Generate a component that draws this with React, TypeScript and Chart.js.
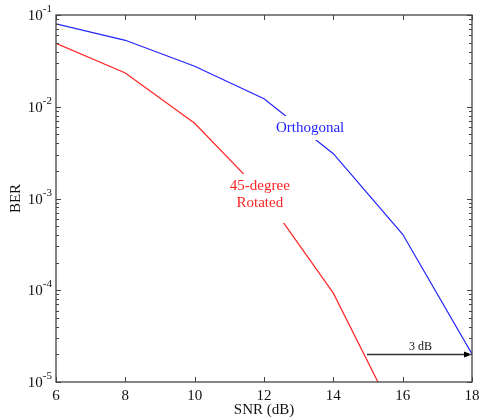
import React, { useEffect, useRef } from "react";
import { Chart, registerables } from "chart.js";

Chart.register(...registerables);

const snr = [6, 8, 10, 12, 14, 16, 18];
const orthogonalBER = [0.08, 0.053, 0.0276, 0.01225, 0.00308, 4.07e-4, 2.02e-5];
const rotatedSNR = [6, 8, 10, 12, 14, 16];
const rotatedBER = [0.049, 0.0233, 0.0066, 1.09e-3, 9.3e-5, 2.9e-6];
const xTicks = [6, 8, 10, 12, 14, 16, 18];
const yDecades = [-5, -4, -3, -2, -1];
const xTitle = "SNR (dB)";
const yTitle = "BER";
const orthLabel = { text: ["Orthogonal"], x: 13.33, y: 5.35e-3 };
const rotLabel = { text: ["45-degree", "Rotated"], x: 11.88, y: 1.24e-3 };
const arrow = { from: 14.97, to: 18, y: 2e-5, text: "3 dB" };

const BLUE = "rgb(35,35,255)";
const RED = "rgb(255,35,35)";
const FONT = '"Liberation Serif", "Times New Roman", serif';

const axesPlugin = {
  id: "customAxes",
  afterDatasetsDraw(chart: any) {
    const ctx = chart.ctx as CanvasRenderingContext2D;
    const { left, right, top, bottom } = chart.chartArea;
    const xs = chart.scales.x;
    const ys = chart.scales.y;
    ctx.save();

    // label boxes + labels (y = baseline of first line)
    const drawLabel = (lab: any, color: string, padX: number, padTop: number, padBottom: number) => {
      ctx.font = `15px ${FONT}`;
      const cx = xs.getPixelForValue(lab.x);
      const by = ys.getPixelForValue(lab.y);
      const lh = 17.3;
      const n = lab.text.length;
      let w = 0;
      lab.text.forEach((t: string) => (w = Math.max(w, ctx.measureText(t).width)));
      const y0 = by - padTop;
      const y1 = by + (n - 1) * lh + padBottom;
      ctx.fillStyle = "#fff";
      ctx.fillRect(cx - w / 2 - padX, y0, w + 2 * padX, y1 - y0);
      ctx.fillStyle = color;
      ctx.textAlign = "center";
      ctx.textBaseline = "alphabetic";
      lab.text.forEach((t: string, i: number) => {
        ctx.fillText(t, cx, by + i * lh);
      });
    };
    drawLabel(orthLabel, BLUE, 3, 15.7, 8.3);
    drawLabel(rotLabel, RED, 3, 16, 15.7);

    // arrow annotation
    const ax0 = xs.getPixelForValue(arrow.from);
    const ax1 = xs.getPixelForValue(arrow.to);
    const ay = Math.round(ys.getPixelForValue(arrow.y)) + 0.5;
    ctx.strokeStyle = "#333";
    ctx.lineWidth = 1.3;
    ctx.beginPath();
    ctx.moveTo(ax0, ay);
    ctx.lineTo(ax1 - 6, ay);
    ctx.stroke();
    ctx.fillStyle = "#000";
    ctx.beginPath();
    ctx.moveTo(ax1, ay);
    ctx.lineTo(ax1 - 8, ay - 3);
    ctx.lineTo(ax1 - 8, ay + 3);
    ctx.closePath();
    ctx.fill();
    ctx.font = `12px ${FONT}`;
    ctx.fillStyle = "#111";
    ctx.textAlign = "center";
    ctx.textBaseline = "alphabetic";
    ctx.fillText(arrow.text, (ax0 + ax1) / 2 + 1, ay - 5);

    // frame
    ctx.strokeStyle = "#444";
    ctx.lineWidth = 1.3;
    ctx.strokeRect(left, top, right - left, bottom - top);

    // x ticks
    ctx.lineWidth = 1;
    ctx.beginPath();
    xTicks.forEach((v) => {
      const px = Math.round(xs.getPixelForValue(v)) + 0.5;
      ctx.moveTo(px, bottom);
      ctx.lineTo(px, bottom - 5);
      ctx.moveTo(px, top);
      ctx.lineTo(px, top + 5);
    });
    // y ticks
    yDecades.forEach((d, i) => {
      const major = Math.pow(10, d);
      const py = Math.round(ys.getPixelForValue(major)) + 0.5;
      ctx.moveTo(left, py);
      ctx.lineTo(left + 5, py);
      ctx.moveTo(right, py);
      ctx.lineTo(right - 5, py);
      if (i < yDecades.length - 1) {
        for (let m = 2; m <= 9; m++) {
          const pm = Math.round(ys.getPixelForValue(m * major)) + 0.5;
          ctx.moveTo(left, pm);
          ctx.lineTo(left + 3, pm);
          ctx.moveTo(right, pm);
          ctx.lineTo(right - 3, pm);
        }
      }
    });
    ctx.stroke();

    // x tick labels
    ctx.fillStyle = "#111";
    ctx.font = `15px ${FONT}`;
    ctx.textAlign = "center";
    ctx.textBaseline = "alphabetic";
    xTicks.forEach((v) => {
      ctx.fillText(String(v), xs.getPixelForValue(v), bottom + 18);
    });
    // y tick labels
    yDecades.forEach((d) => {
      const py = ys.getPixelForValue(Math.pow(10, d));
      const sup = String(d);
      ctx.font = `11px ${FONT}`;
      const sw = ctx.measureText(sup).width;
      const supX = left - 4 - sw;
      ctx.textAlign = "left";
      ctx.fillText(sup, supX, py - 3);
      ctx.font = `15px ${FONT}`;
      ctx.textAlign = "right";
      ctx.fillText("10", supX, py + 5);
    });
    // axis titles
    ctx.font = `15px ${FONT}`;
    ctx.textAlign = "center";
    ctx.fillText(xTitle, (left + right) / 2, bottom + 32);
    ctx.save();
    ctx.translate(20, (top + bottom) / 2);
    ctx.rotate(-Math.PI / 2);
    ctx.fillText(yTitle, 0, 0);
    ctx.restore();

    ctx.restore();
  },
};

export default function App() {
  const ref = useRef<HTMLCanvasElement>(null);
  useEffect(() => {
    document.body.style.margin = "0";
    const chart = new Chart(ref.current as HTMLCanvasElement, {
      type: "line",
      data: {
        datasets: [
          {
            label: "Orthogonal",
            data: snr.map((x, i) => ({ x, y: orthogonalBER[i] })),
            borderColor: BLUE,
            borderWidth: 1.2,
            pointRadius: 0,
            tension: 0,
          },
          {
            label: "45-degree Rotated",
            data: rotatedSNR.map((x, i) => ({ x, y: rotatedBER[i] })),
            borderColor: RED,
            borderWidth: 1.2,
            pointRadius: 0,
            tension: 0,
          },
        ],
      },
      options: {
        responsive: false,
        animation: false,
        layout: { padding: { left: 56, top: 15, right: 10, bottom: 38 } },
        plugins: { legend: { display: false }, tooltip: { enabled: false }, title: { display: false } },
        scales: {
          x: { type: "linear", min: 6, max: 18, display: false },
          y: { type: "logarithmic", min: 1e-5, max: 1e-1, display: false },
        },
      },
      plugins: [axesPlugin],
    } as any);
    return () => chart.destroy();
  }, []);
  return <canvas ref={ref} width={482} height={420} />;
}
